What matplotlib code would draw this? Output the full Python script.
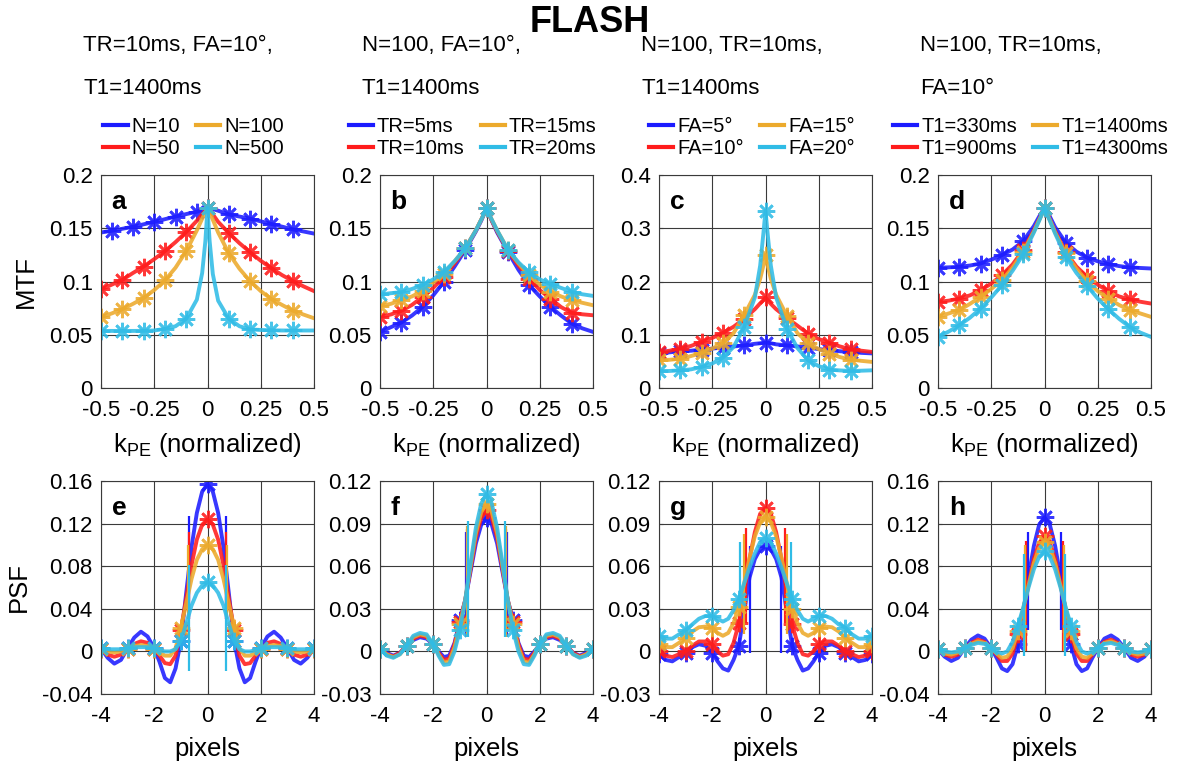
import matplotlib
matplotlib.use('Agg')
import matplotlib.pyplot as plt
from matplotlib.lines import Line2D

plt.rcParams['font.family'] = ['Liberation Sans', 'DejaVu Sans']
plt.rcParams['mathtext.fontset'] = 'custom'
plt.rcParams['mathtext.rm'] = 'Liberation Sans'
plt.rcParams['mathtext.it'] = 'Liberation Sans:italic'
plt.rcParams['axes.unicode_minus'] = False

# ---------------- data ----------------
# MTF: sample positions along k_PE (normalized)
k_pe = [-0.5, -0.45, -0.4, -0.35, -0.3, -0.25, -0.2, -0.15, -0.1, -0.05, -0.025, -0.01, 0,
        0.01, 0.025, 0.05, 0.1, 0.15, 0.2, 0.25, 0.3, 0.35, 0.4, 0.45, 0.5]
k_markers = [-0.5, -0.4, -0.3, -0.2, -0.1, 0, 0.1, 0.2, 0.3, 0.4]
k_markers_n10 = [-0.45, -0.35, -0.25, -0.15, -0.05, 0, 0.1, 0.2, 0.3, 0.4]

# panel a: N varies
mtf_n10 = [0.146, 0.1476, 0.1495, 0.1514, 0.1537, 0.156, 0.1585, 0.161, 0.1633, 0.1655, 0.1675, 0.1685, 0.169,
           0.1685, 0.168, 0.1665, 0.163, 0.161, 0.159, 0.1565, 0.154, 0.1515, 0.149, 0.147, 0.145]
mtf_n50 = [0.0925, 0.097, 0.1015, 0.108, 0.114, 0.121, 0.1285, 0.137, 0.1465, 0.157, 0.163, 0.1665, 0.169,
           0.1665, 0.163, 0.156, 0.1455, 0.136, 0.1275, 0.1195, 0.1125, 0.106, 0.1005, 0.0955, 0.091]
mtf_n100 = [0.0665, 0.070, 0.074, 0.079, 0.0845, 0.092, 0.101, 0.113, 0.1285, 0.148, 0.159, 0.165, 0.169,
            0.165, 0.158, 0.146, 0.1265, 0.112, 0.1003, 0.091, 0.0835, 0.078, 0.0727, 0.069, 0.0655]
mtf_n500 = [0.0536, 0.0536, 0.0536, 0.0536, 0.0537, 0.054, 0.0555, 0.058, 0.065, 0.083, 0.108, 0.138, 0.169,
            0.138, 0.107, 0.082, 0.065, 0.058, 0.055, 0.0545, 0.0542, 0.054, 0.054, 0.054, 0.054]

# panel b: TR varies
mtf_tr5 = [0.0524, 0.057, 0.0614, 0.068, 0.0762, 0.087, 0.0997, 0.114, 0.1295, 0.147, 0.157, 0.164, 0.169,
           0.164, 0.157, 0.146, 0.128, 0.111, 0.0966, 0.086, 0.0762, 0.068, 0.0605, 0.056, 0.0527]
mtf_tr10 = [0.0668, 0.069, 0.0724, 0.078, 0.0856, 0.094, 0.1044, 0.117, 0.131, 0.148, 0.158, 0.164, 0.169,
            0.164, 0.157, 0.147, 0.129, 0.115, 0.1028, 0.092, 0.084, 0.076, 0.0705, 0.0692, 0.0683]
mtf_tr15 = [0.0771, 0.079, 0.0824, 0.086, 0.0912, 0.099, 0.1075, 0.119, 0.131, 0.148, 0.158, 0.164, 0.169,
            0.164, 0.158, 0.148, 0.130, 0.117, 0.106, 0.097, 0.0903, 0.086, 0.0824, 0.080, 0.0777]
mtf_tr20 = [0.0878, 0.089, 0.090, 0.093, 0.0966, 0.102, 0.109, 0.119, 0.131, 0.148, 0.158, 0.164, 0.169,
            0.164, 0.158, 0.148, 0.130, 0.118, 0.1085, 0.102, 0.0975, 0.094, 0.0903, 0.088, 0.0865]

# panel c: FA varies
mtf_fa5 = [0.066, 0.067, 0.069, 0.070, 0.072, 0.074, 0.076, 0.078, 0.080, 0.083, 0.084, 0.085, 0.085,
           0.085, 0.084, 0.082, 0.080, 0.078, 0.076, 0.073, 0.071, 0.069, 0.068, 0.066, 0.065]
mtf_fa10 = [0.0677, 0.070, 0.074, 0.079, 0.0865, 0.094, 0.1034, 0.115, 0.130, 0.148, 0.159, 0.165, 0.170,
            0.165, 0.158, 0.148, 0.132, 0.117, 0.102, 0.092, 0.0846, 0.078, 0.0727, 0.070, 0.0677]
mtf_fa15 = [0.052, 0.053, 0.055, 0.060, 0.0658, 0.074, 0.0846, 0.103, 0.137, 0.175, 0.205, 0.230, 0.250,
            0.230, 0.205, 0.175, 0.136, 0.103, 0.0846, 0.073, 0.0646, 0.058, 0.0533, 0.051, 0.049]
mtf_fa20 = [0.032, 0.032, 0.0332, 0.035, 0.0395, 0.046, 0.057, 0.077, 0.1147, 0.170, 0.230, 0.290, 0.333,
            0.290, 0.230, 0.170, 0.1116, 0.075, 0.052, 0.041, 0.0345, 0.033, 0.032, 0.0325, 0.0332]

# panel d: T1 varies
mtf_t330 = [0.1129, 0.1133, 0.1138, 0.115, 0.1169, 0.1205, 0.1248, 0.130, 0.1379, 0.152, 0.161, 0.166, 0.1687,
            0.166, 0.161, 0.151, 0.1364, 0.128, 0.1223, 0.119, 0.1163, 0.1145, 0.1132, 0.1127, 0.1122]
mtf_t900 = [0.0809, 0.082, 0.084, 0.087, 0.0918, 0.098, 0.106, 0.116, 0.1295, 0.148, 0.158, 0.165, 0.169,
            0.165, 0.158, 0.147, 0.1273, 0.114, 0.1044, 0.097, 0.0909, 0.086, 0.0831, 0.081, 0.0793]
mtf_t1400 = [0.0668, 0.070, 0.073, 0.079, 0.0856, 0.093, 0.1013, 0.113, 0.1279, 0.147, 0.158, 0.164, 0.169,
             0.164, 0.158, 0.146, 0.1263, 0.112, 0.1003, 0.091, 0.084, 0.078, 0.073, 0.070, 0.0668]
mtf_t4300 = [0.048, 0.053, 0.0589, 0.066, 0.0746, 0.085, 0.0966, 0.110, 0.1254, 0.146, 0.157, 0.164, 0.169,
             0.164, 0.157, 0.145, 0.1232, 0.108, 0.0959, 0.084, 0.074, 0.065, 0.0574, 0.052, 0.048]

# PSF: sample positions in pixels
px = [-4, -3.75, -3.5, -3.25, -3, -2.75, -2.5, -2.25, -2, -1.8, -1.6, -1.4, -1.2, -1, -0.8, -0.6, -0.4, -0.2, 0,
      0.2, 0.4, 0.6, 0.8, 1, 1.2, 1.4, 1.6, 1.8, 2, 2.25, 2.5, 2.75, 3, 3.25, 3.5, 3.75, 4]
px_markers = [-4, -3, -2, -1, 0, 1, 2, 3, 4]

# panel e
psf_n10 = [0.003, -0.006, -0.0115, -0.008, 0.003, 0.013, 0.0185, 0.014, 0.003, -0.010, -0.025, -0.029, -0.016,
           0.010, 0.055, 0.098, 0.130, 0.150, 0.157, 0.150, 0.130, 0.098, 0.055, 0.010, -0.016, -0.029, -0.025,
           -0.010, 0.003, 0.014, 0.0185, 0.013, 0.003, -0.008, -0.0115, -0.006, 0.003]
psf_n50 = [0.002, -0.003, -0.005, -0.003, 0.002, 0.007, 0.0095, 0.008, 0.002, -0.004, -0.011, -0.012, -0.004,
           0.020, 0.050, 0.081, 0.105, 0.119, 0.124, 0.119, 0.105, 0.081, 0.050, 0.020, -0.004, -0.012, -0.011,
           -0.004, 0.002, 0.008, 0.0095, 0.007, 0.002, -0.003, -0.005, -0.003, 0.002]
psf_n100 = [0.002, 0.0, -0.001, 0.0, 0.002, 0.005, 0.006, 0.005, 0.002, -0.001, -0.004, -0.004, 0.003,
            0.022, 0.045, 0.068, 0.086, 0.096, 0.100, 0.096, 0.086, 0.068, 0.045, 0.022, 0.003, -0.004, -0.004,
            -0.001, 0.002, 0.005, 0.006, 0.005, 0.002, 0.0, -0.001, 0.0, 0.002]
psf_n500 = [0.003, 0.002, 0.002, 0.002, 0.003, 0.004, 0.004, 0.004, 0.003, 0.001, 0.0, 0.0, 0.002,
            0.010, 0.026, 0.043, 0.055, 0.062, 0.065, 0.062, 0.055, 0.043, 0.026, 0.010, 0.002, 0.0, 0.0,
            0.001, 0.003, 0.004, 0.004, 0.004, 0.003, 0.002, 0.002, 0.002, 0.003]

# panel f
psf_tr5 = [0.002, -0.001, -0.003, -0.001, 0.004, 0.008, 0.010, 0.009, 0.005, 0.0, -0.004, -0.003, 0.006,
           0.022, 0.036, 0.056, 0.076, 0.089, 0.094, 0.089, 0.076, 0.056, 0.036, 0.022, 0.006, -0.003, -0.004,
           0.0, 0.005, 0.009, 0.010, 0.008, 0.004, -0.001, -0.003, -0.001, 0.002]
psf_tr10 = [0.002, -0.002, -0.0035, -0.001, 0.004, 0.009, 0.011, 0.010, 0.005, -0.001, -0.006, -0.005, 0.005,
            0.021, 0.036, 0.058, 0.080, 0.094, 0.0995, 0.094, 0.080, 0.058, 0.036, 0.021, 0.005, -0.005, -0.006,
            -0.001, 0.005, 0.010, 0.011, 0.009, 0.004, -0.001, -0.0035, -0.002, 0.002]
psf_tr15 = [0.002, -0.002, -0.004, -0.002, 0.004, 0.010, 0.012, 0.011, 0.005, -0.002, -0.008, -0.007, 0.003,
            0.019, 0.036, 0.060, 0.083, 0.098, 0.104, 0.098, 0.083, 0.060, 0.036, 0.019, 0.003, -0.007, -0.008,
            -0.002, 0.005, 0.011, 0.012, 0.010, 0.004, -0.002, -0.004, -0.002, 0.002]
psf_tr20 = [0.002, -0.003, -0.0045, -0.002, 0.004, 0.011, 0.013, 0.012, 0.005, -0.003, -0.0095, -0.009, 0.0,
            0.015, 0.036, 0.062, 0.087, 0.104, 0.111, 0.104, 0.087, 0.062, 0.036, 0.015, 0.0, -0.009, -0.0095,
            -0.003, 0.005, 0.012, 0.013, 0.011, 0.004, -0.002, -0.0045, -0.003, 0.002]

# panel g
psf_fa5 = [-0.002, -0.006, -0.007, -0.004, -0.001, 0.003, 0.005, 0.004, -0.001, -0.007, -0.012, -0.0135, -0.006,
           0.004, 0.028, 0.052, 0.065, 0.072, 0.074, 0.072, 0.065, 0.052, 0.028, 0.004, -0.006, -0.0135, -0.012,
           -0.007, -0.001, 0.004, 0.005, 0.003, -0.001, -0.004, -0.007, -0.006, -0.002]
psf_fa10 = [0.0, -0.003, -0.004, -0.002, 0.0, 0.004, 0.007, 0.007, 0.005, 0.0, -0.003, -0.002, 0.006,
            0.020, 0.042, 0.065, 0.084, 0.097, 0.101, 0.097, 0.084, 0.065, 0.042, 0.019, 0.006, -0.002, -0.003,
            0.0, 0.005, 0.007, 0.007, 0.004, 0.0, -0.002, -0.004, -0.003, 0.0]
psf_fa15 = [0.005, 0.003, 0.003, 0.006, 0.0096, 0.014, 0.017, 0.0175, 0.0167, 0.013, 0.011, 0.013, 0.020,
            0.031, 0.048, 0.066, 0.081, 0.091, 0.095, 0.091, 0.081, 0.066, 0.048, 0.030, 0.020, 0.013, 0.011,
            0.013, 0.0167, 0.0175, 0.017, 0.014, 0.0096, 0.006, 0.003, 0.003, 0.005]
psf_fa20 = [0.011, 0.009, 0.009, 0.012, 0.015, 0.019, 0.023, 0.025, 0.025, 0.023, 0.021, 0.023, 0.029,
            0.037, 0.048, 0.059, 0.069, 0.077, 0.080, 0.077, 0.069, 0.059, 0.048, 0.037, 0.029, 0.023, 0.021,
            0.023, 0.025, 0.025, 0.023, 0.019, 0.0167, 0.012, 0.009, 0.009, 0.011]

# panel h
psf_t330 = [0.002, -0.005, -0.009, -0.006, 0.003, 0.011, 0.015, 0.012, 0.003, -0.006, -0.016, -0.0185, -0.012,
            0.0065, 0.036, 0.070, 0.099, 0.119, 0.126, 0.119, 0.099, 0.070, 0.036, 0.0065, -0.012, -0.0185, -0.016,
            -0.006, 0.003, 0.012, 0.015, 0.011, 0.003, -0.006, -0.009, -0.005, 0.002]
psf_t900 = [0.002, -0.003, -0.005, -0.003, 0.003, 0.008, 0.011, 0.009, 0.003, -0.003, -0.009, -0.009, -0.002,
            0.016, 0.038, 0.063, 0.087, 0.102, 0.108, 0.102, 0.087, 0.063, 0.038, 0.016, -0.002, -0.009, -0.009,
            -0.003, 0.003, 0.009, 0.011, 0.008, 0.003, -0.003, -0.005, -0.003, 0.002]
psf_t1400 = [0.002, -0.002, -0.003, -0.001, 0.003, 0.007, 0.0095, 0.008, 0.003, -0.002, -0.006, -0.005, 0.003,
             0.019, 0.040, 0.062, 0.083, 0.097, 0.103, 0.097, 0.083, 0.062, 0.040, 0.019, 0.003, -0.005, -0.006,
             -0.002, 0.003, 0.008, 0.0095, 0.007, 0.003, -0.001, -0.003, -0.002, 0.002]
psf_t4300 = [0.002, 0.0, -0.001, 0.0, 0.003, 0.006, 0.008, 0.007, 0.003, 0.0, -0.002, 0.0, 0.009,
             0.024, 0.041, 0.060, 0.077, 0.089, 0.094, 0.089, 0.077, 0.060, 0.041, 0.024, 0.009, 0.0, -0.002,
             0.0, 0.003, 0.007, 0.008, 0.006, 0.003, 0.0, -0.001, 0.0, 0.002]

# thin vertical segments around the PSF main lobe: (|x|, low, high) per curve
seg_e = [(0.68, 0.03, 0.127), (0.71, 0.03, 0.112), (0.74, 0.03, 0.100), (0.68, -0.018, 0.081)]
seg_f = [(0.76, 0.01, 0.084), (0.74, 0.01, 0.086), (0.75, 0.01, 0.088), (0.70, 0.01, 0.092)]
seg_g = [(0.60, -0.001, 0.074), (0.72, 0.02, 0.087), (0.82, 0.012, 0.083), (0.95, 0.035, 0.077)]
seg_h = [(0.62, 0.02, 0.112), (0.68, 0.0, 0.104), (0.74, 0.0, 0.100), (0.76, -0.0045, 0.091)]

subtitles = [('TR=10ms, FA=10\u00b0,', 'T1=1400ms'),
             ('N=100, FA=10\u00b0,', 'T1=1400ms'),
             ('N=100, TR=10ms,', 'T1=1400ms'),
             ('N=100, TR=10ms,', 'FA=10\u00b0')]
legend_labels = [['N=10', 'N=50', 'N=100', 'N=500'],
                 ['TR=5ms', 'TR=10ms', 'TR=15ms', 'TR=20ms'],
                 ['FA=5\u00b0', 'FA=10\u00b0', 'FA=15\u00b0', 'FA=20\u00b0'],
                 ['T1=330ms', 'T1=900ms', 'T1=1400ms', 'T1=4300ms']]

colors = ['#1c1cff', '#ff1c1c', '#ecaa2c', '#30bce6']

mtf_panels = [
    dict(letter='a', curves=[mtf_n10, mtf_n50, mtf_n100, mtf_n500], ylim=(0, 0.2),
         yticks=[0, 0.05, 0.1, 0.15, 0.2], ylabels=['0', '0.05', '0.1', '0.15', '0.2']),
    dict(letter='b', curves=[mtf_tr5, mtf_tr10, mtf_tr15, mtf_tr20], ylim=(0, 0.2),
         yticks=[0, 0.05, 0.1, 0.15, 0.2], ylabels=['0', '0.05', '0.1', '0.15', '0.2']),
    dict(letter='c', curves=[mtf_fa5, mtf_fa10, mtf_fa15, mtf_fa20], ylim=(0, 0.4),
         yticks=[0, 0.1, 0.2, 0.3, 0.4], ylabels=['0', '0.1', '0.2', '0.3', '0.4']),
    dict(letter='d', curves=[mtf_t330, mtf_t900, mtf_t1400, mtf_t4300], ylim=(0, 0.2),
         yticks=[0, 0.05, 0.1, 0.15, 0.2], ylabels=['0', '0.05', '0.1', '0.15', '0.2']),
]
psf_panels = [
    dict(letter='e', curves=[psf_n10, psf_n50, psf_n100, psf_n500], segs=seg_e, ylim=(-0.04, 0.16),
         yticks=[-0.04, 0, 0.04, 0.08, 0.12, 0.16], ylabels=['-0.04', '0', '0.04', '0.08', '0.12', '0.16']),
    dict(letter='f', curves=[psf_tr5, psf_tr10, psf_tr15, psf_tr20], segs=seg_f, ylim=(-0.03, 0.12),
         yticks=[-0.03, 0, 0.03, 0.06, 0.09, 0.12], ylabels=['-0.03', '0', '0.03', '0.06', '0.09', '0.12']),
    dict(letter='g', curves=[psf_fa5, psf_fa10, psf_fa15, psf_fa20], segs=seg_g, ylim=(-0.03, 0.12),
         yticks=[-0.03, 0, 0.03, 0.06, 0.09, 0.12], ylabels=['-0.03', '0', '0.03', '0.06', '0.09', '0.12']),
    dict(letter='h', curves=[psf_t330, psf_t900, psf_t1400, psf_t4300], segs=seg_h, ylim=(-0.04, 0.16),
         yticks=[-0.04, 0, 0.04, 0.08, 0.12, 0.16], ylabels=['-0.04', '0', '0.04', '0.08', '0.12', '0.16']),
]

# ---------------- layout (pixels of a 1180x766 canvas) ----------------
W, H = 1180, 766
ax_left = [101, 380, 659, 938]
ax_size = 213
row_top = [175, 481]

asterisk = (8, 2, 0)
line_kw = dict(lw=2.8, alpha=0.88, marker=asterisk, ms=12.5, mew=1.9)


def style_axes(ax, p):
    ax.set_ylim(*p['ylim'])
    ax.set_yticks(p['yticks'])
    ax.set_yticklabels(p['ylabels'])
    ax.grid(True, color='#3a3a3a', lw=0.8)
    ax.set_axisbelow(True)
    ax.tick_params(labelsize=16, direction='in', length=3, color='#3a3a3a')
    ax.tick_params(axis='x', pad=9)
    ax.tick_params(axis='y', pad=6)
    for s in ax.spines.values():
        s.set_color('#3a3a3a')
        s.set_linewidth(0.8)
    ax.text(0.05, 0.875, p['letter'], transform=ax.transAxes, fontsize=19,
            fontweight='bold', va='center', ha='left')


def marker_index(xs, marks):
    return [i for i, x in enumerate(xs) if any(abs(x - m) < 1e-9 for m in marks)]


fig = plt.figure(figsize=(W / 100, H / 100), dpi=100)
fig.text(0.5, 1 - 22 / H, 'FLASH', ha='center', va='center', fontsize=26, fontweight='bold')

for col in range(4):
    # top row: MTF
    p = mtf_panels[col]
    ax = fig.add_axes([ax_left[col] / W, 1 - (row_top[0] + ax_size) / H, ax_size / W, ax_size / H])
    for j, (yv, c) in enumerate(zip(p['curves'], colors)):
        marks = k_markers_n10 if (col == 0 and j == 0) else k_markers
        ax.plot(k_pe, yv, color=c, markevery=marker_index(k_pe, marks), **line_kw)
    ax.set_xlim(-0.5, 0.5)
    ax.set_xticks([-0.5, -0.25, 0, 0.25, 0.5])
    ax.set_xticklabels(['-0.5', '-0.25', '0', '0.25', '0.5'])
    style_axes(ax, p)
    ax.set_xlabel(r'k$_{\mathrm{PE}}$ (normalized)', fontsize=18.5, labelpad=7)
    if col == 0:
        ax.set_ylabel('MTF', fontsize=18.5, labelpad=8)

    handles = [Line2D([], [], color=c, lw=3) for c in colors]
    ax.legend(handles, legend_labels[col], ncol=2, loc='lower center', bbox_to_anchor=(0.435, 1.08),
              frameon=False, fontsize=14.5, handlelength=1.2, handletextpad=0.2,
              columnspacing=0.8, labelspacing=0.15, borderaxespad=0, borderpad=0)

    # subtitles
    fig.text((ax_left[col] - 18) / W, 1 - 46 / H, subtitles[col][0], fontsize=16, va='center', ha='left')
    fig.text((ax_left[col] - 18) / W, 1 - 88 / H, subtitles[col][1], fontsize=16, va='center', ha='left')

    # bottom row: PSF
    p = psf_panels[col]
    ax = fig.add_axes([ax_left[col] / W, 1 - (row_top[1] + ax_size) / H, ax_size / W, ax_size / H])
    idx = marker_index(px, px_markers)
    for yv, c, (sx, lo, hi) in zip(p['curves'], colors, p['segs']):
        ax.plot(px, yv, color=c, markevery=idx, **line_kw)
        ax.vlines([-sx, sx], lo, hi, color=c, lw=1.6)
    ax.set_xlim(-4, 4)
    ax.set_xticks([-4, -2, 0, 2, 4])
    ax.set_xticklabels(['-4', '-2', '0', '2', '4'])
    style_axes(ax, p)
    ax.set_xlabel('pixels', fontsize=18.5, labelpad=7)
    if col == 0:
        ax.set_ylabel('PSF', fontsize=18.5, labelpad=8)

fig.savefig('out.png', dpi=100)
